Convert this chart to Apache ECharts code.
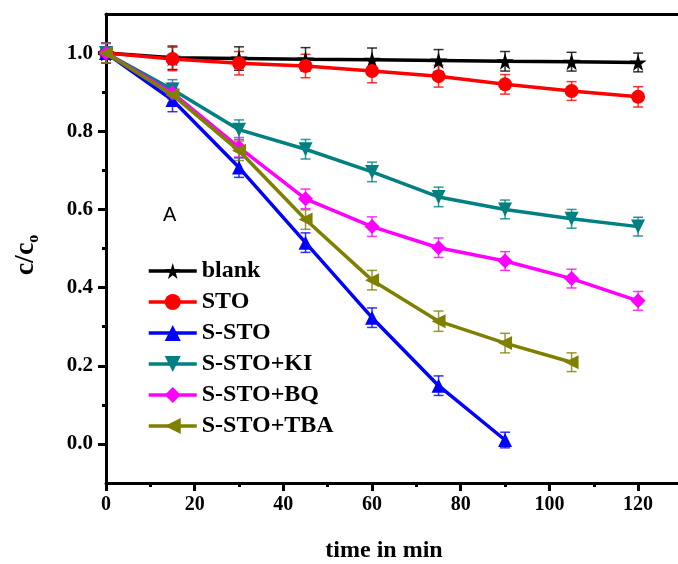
<!DOCTYPE html>
<html>
<head>
<meta charset="utf-8">
<script src="https://cdn.jsdelivr.net/npm/echarts@6/dist/echarts.min.js"></script>
<style>
  html, body { margin: 0; padding: 0; background: #fff; }
  #chart { width: 678px; height: 564px; }
</style>
</head>
<body>
<div id="chart"></div>
<script>
// time points (min)
const times = [0, 15, 30, 45, 60, 75, 90, 105, 120]
const seriesNames = ['blank', 'STO', 'S-STO', 'S-STO+KI', 'S-STO+BQ', 'S-STO+TBA']
const colors = ['#000000', '#ff0000', '#0000ff', '#008080', '#ff00ff', '#808000']

// c/c0 values
const blankVals = [1.0, 0.988, 0.986, 0.984, 0.983, 0.981, 0.979, 0.978, 0.976]
const stoVals = [1.0, 0.985, 0.974, 0.967, 0.954, 0.941, 0.92, 0.903, 0.888]
const sstoVals = [1.0, 0.88, 0.707, 0.515, 0.323, 0.149, 0.01]
const kiVals = [1.0, 0.907, 0.804, 0.754, 0.696, 0.632, 0.6, 0.576, 0.556]
const bqVals = [1.0, 0.898, 0.759, 0.627, 0.556, 0.502, 0.468, 0.423, 0.366]
const tbaVals = [1.0, 0.893, 0.75, 0.574, 0.419, 0.314, 0.258, 0.209]

// error bar half-heights
const blankErr = [0.025, 0.03, 0.03, 0.03, 0.03, 0.028, 0.025, 0.024, 0.024]
const stoErr = [0.025, 0.03, 0.03, 0.03, 0.03, 0.028, 0.025, 0.024, 0.026]
const sstoErr = [0.025, 0.03, 0.025, 0.025, 0.025, 0.025, 0.02]
const kiErr = [0.025, 0.025, 0.025, 0.025, 0.025, 0.025, 0.024, 0.024, 0.024]
const bqErr = [0.025, 0.025, 0.025, 0.025, 0.025, 0.025, 0.024, 0.024, 0.024]
const tbaErr = [0.025, 0.025, 0.025, 0.025, 0.025, 0.026, 0.025, 0.024]

const yLabelTicks = [0, 0.2, 0.4, 0.6, 0.8, 1.0]
const yMinorTicks = [0.1, 0.3, 0.5, 0.7, 0.9]
const xLabelTicks = [0, 20, 40, 60, 80, 100, 120]
const xMinorTicks = [10, 30, 50, 70, 90, 110]

const allVals = [blankVals, stoVals, sstoVals, kiVals, bqVals, tbaVals]
const allErr = [blankErr, stoErr, sstoErr, kiErr, bqErr, tbaErr]

const starPath = 'path://M50,0 L61,35 L98,35 L68,57 L79,91 L50,70 L21,91 L32,57 L2,35 L39,35 Z'
const symbols = [starPath, 'circle', 'triangle', 'triangle', 'diamond', 'triangle']
const symbolRotates = [0, 0, 0, 180, 0, 90]
const symbolSizes = [17, 14, 14, 14, 15, 14]

const serifFont = '"Liberation Serif", "DejaVu Serif", serif'

const chart = echarts.init(document.getElementById('chart'))

const lineSeries = seriesNames.map((name, i) => {
  return {
    name: name,
    type: 'line',
    xAxisIndex: 0,
    yAxisIndex: 0,
    data: allVals[i].map((v, j) => [times[j], v]),
    symbol: symbols[i],
    symbolRotate: symbolRotates[i],
    symbolSize: symbolSizes[i],
    showAllSymbol: true,
    lineStyle: { color: colors[i], width: 3.5 },
    itemStyle: { color: colors[i] },
    z: 3 + i * 0.1,
    animation: false
  }
})

const errSeries = seriesNames.map((name, i) => {
  return {
    name: name + ' err',
    type: 'custom',
    xAxisIndex: 0,
    yAxisIndex: 0,
    data: allVals[i].map((v, j) => [times[j], v, allErr[i][j]]),
    encode: { x: 0, y: 1 },
    renderItem: (params, api) => {
      const x = api.value(0)
      const y = api.value(1)
      const e = api.value(2)
      const top = api.coord([x, y + e])
      const bot = api.coord([x, y - e])
      const cap = 5
      const st = { stroke: colors[i], lineWidth: 1.5, opacity: 0.8 }
      return {
        type: 'group',
        children: [
          { type: 'line', shape: { x1: top[0], y1: top[1], x2: bot[0], y2: bot[1] }, style: st },
          { type: 'line', shape: { x1: top[0] - cap, y1: top[1], x2: top[0] + cap, y2: top[1] }, style: st },
          { type: 'line', shape: { x1: bot[0] - cap, y1: bot[1], x2: bot[0] + cap, y2: bot[1] }, style: st }
        ]
      }
    },
    z: 2,
    silent: true,
    animation: false
  }
})

const option = {
  backgroundColor: '#fff',
  animation: false,
  grid: {
    left: 106,
    right: 0,
    top: 14,
    bottom: 81,
    show: false
  },
  legend: {
    data: seriesNames,
    orient: 'vertical',
    left: 142,
    top: 254,
    itemWidth: 48,
    itemHeight: 20,
    itemGap: 7,
    lineStyle: { width: 3.5 },
    textStyle: {
      fontFamily: serifFont,
      fontWeight: 'bold',
      fontSize: 24,
      color: '#000',
      lineHeight: 24
    }
  },
  xAxis: [
    {
      type: 'value',
      min: 0,
      max: 129,
      axisLine: { show: true, onZero: false, lineStyle: { color: '#000', width: 3 } },
      axisTick: { show: true, length: 8, lineStyle: { width: 3, color: '#000' }, customValues: xLabelTicks },
      axisLabel: {
        customValues: xLabelTicks,
        margin: 12,
        fontFamily: serifFont,
        fontWeight: 'bold',
        fontSize: 20,
        color: '#000'
      },
      splitLine: { show: false }
    },
    {
      type: 'value',
      min: 0,
      max: 129,
      position: 'bottom',
      axisLine: { show: false, onZero: false },
      axisTick: { show: true, length: 4, lineStyle: { width: 3, color: '#000' }, customValues: xMinorTicks },
      axisLabel: { show: false },
      splitLine: { show: false }
    },
    {
      type: 'value',
      min: 0,
      max: 129,
      position: 'top',
      axisLine: { show: true, onZero: false, lineStyle: { color: '#000', width: 3 } },
      axisTick: { show: false },
      axisLabel: { show: false },
      splitLine: { show: false }
    }
  ],
  yAxis: [
    {
      type: 'value',
      min: -0.1,
      max: 1.1,
      axisLine: { show: true, onZero: false, lineStyle: { color: '#000', width: 3 } },
      axisTick: { show: true, length: 8, lineStyle: { width: 3, color: '#000' }, customValues: yLabelTicks },
      axisLabel: {
        customValues: yLabelTicks,
        formatter: v => v.toFixed(1),
        margin: 13,
        fontFamily: serifFont,
        fontWeight: 'bold',
        fontSize: 21,
        color: '#000'
      },
      splitLine: { show: false }
    },
    {
      type: 'value',
      min: -0.1,
      max: 1.1,
      position: 'left',
      axisLine: { show: false, onZero: false },
      axisTick: { show: true, length: 4, lineStyle: { width: 3, color: '#000' }, customValues: yMinorTicks },
      axisLabel: { show: false },
      splitLine: { show: false }
    }
  ],
  graphic: [
    {
      type: 'text',
      x: 384,
      y: 551,
      style: {
        text: 'time in min',
        fontFamily: serifFont,
        fontWeight: 'bold',
        fontSize: 24,
        fill: '#000',
        align: 'center',
        verticalAlign: 'middle'
      }
    },
    {
      type: 'text',
      x: 26,
      y: 255,
      rotation: Math.PI / 2,
      style: {
        text: '{a|c/c}{b|o}',
        align: 'center',
        verticalAlign: 'middle',
        rich: {
          a: { fontFamily: serifFont, fontWeight: 'bold', fontSize: 28, fill: '#000', color: '#000' },
          b: { fontFamily: serifFont, fontWeight: 'bold', fontSize: 16, fill: '#000', color: '#000', padding: [15, 0, 0, 0] }
        }
      }
    },
    {
      type: 'text',
      x: 163,
      y: 205,
      style: {
        text: 'A',
        fontFamily: '"Liberation Sans", Arial, sans-serif',
        fontSize: 20,
        fill: '#000'
      }
    }
  ],
  series: [...errSeries, ...lineSeries]
}

chart.setOption(option)
</script>
</body>
</html>
